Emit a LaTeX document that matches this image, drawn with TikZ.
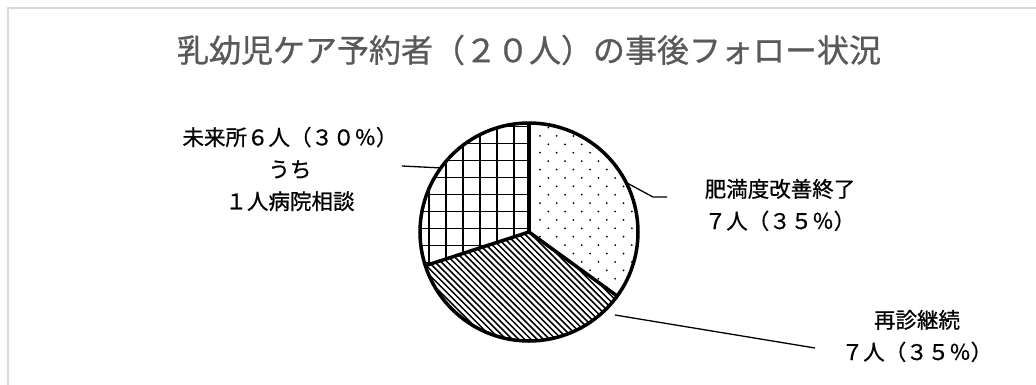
\documentclass[tikz,border=0pt]{standalone}
\usepackage{fontspec}
\setmainfont{Noto Sans CJK JP}
\newfontfamily\jpfont[FakeBold=0.8]{Noto Sans CJK JP}
\definecolor{titlegray}{HTML}{595959}
\definecolor{framegray}{HTML}{D9D9D9}
\tikzset{
  lbl/.style={align=center, inner sep=0pt, font=\jpfont\fontsize{21.5}{32}\selectfont},
  leader/.style={line width=1.3pt, black},
  slice/.style={line width=3.5pt, black, line join=round},
  hatchline/.style={line width=1.5pt, black},
}

\begin{document}
\begin{tikzpicture}[x=1pt,y=1pt]
    \useasboundingbox (-529,-152) rectangle (507,232);

    % Rahmen
    \draw[framegray, line width=2pt] (-521,-170) -- (-521,224.5) -- (520,224.5);

    % Titel
    \node[font=\jpfont\fontsize{32}{36}\selectfont, text=titlegray] (title) at (0,182)
        {乳幼児ケア予約者（２０人）の事後フォロー状況};

    \coordinate (c) at (0,0);

    % 肥満度改善終了: Punkte
    \begin{scope}
        \clip (c) -- (90:109) arc[start angle=90, end angle=-36, radius=109] -- cycle;
        \foreach \j in {0,...,22} {
            \pgfmathsetmacro{\dx}{mod(\j,2)*8.35}
            \foreach \i in {0,...,6} {
                \fill ({11+\dx+\i*16.7},{112.9-\j*8.4}) circle (1.0);
            }
        }
    \end{scope}

    % 再診継続: Schraffur
    \begin{scope}
        \clip (c) -- (-36:109) arc[start angle=-36, end angle=-162, radius=109] -- cycle;
        \foreach \k in {-45,...,45} {
            \draw[hatchline] ({\k*6.2-150},150) -- ({\k*6.2+150},-150);
        }
    \end{scope}

    % 未来所: Gitter
    \begin{scope}
        \clip (c) -- (-162:109) arc[start angle=-162, end angle=-270, radius=109] -- cycle;
        \foreach \k in {0,...,6} {
            \draw[line width=1.3pt] ({-15-\k*17},-120) -- ({-15-\k*17},120);
        }
        \foreach \k in {-2,...,6} {
            \draw[line width=1.3pt] (-120,{3.7+\k*17}) -- (10,{3.7+\k*17});
        }
    \end{scope}

    % Umriss
    \draw[slice] (c) circle (109);
    \draw[slice] (c) -- (90:109);
    \draw[slice] (c) -- (-36:109);
    \draw[slice] (c) -- (-162:109);

    % Beschriftungen
    \node[lbl] (dotlbl) at (251,27) {肥満度改善終了\\７人（３５％）};
    \node[lbl] (hatchlbl) at (388,-104) {再診継続\\７人（３５％）};
    \node[lbl] (gridlbl) at (-239,63) {未来所６人（３０％）\\うち\\１人病院相談};

    % Fuehrungslinien
    \coordinate (dotA) at (27:109);
    \coordinate (dotB) at (124,35);
    \coordinate (dotC) at (138,35);
    \coordinate (hatchA) at (86,-83);
    \coordinate (hatchB) at (286,-116);
    \coordinate (gridA) at (144:109);
    \coordinate (gridB) at (-127,66);
    \draw[leader] (dotA) -- (dotB) -- (dotC);
    \draw[leader] (hatchA) -- (hatchB);
    \draw[leader] (gridA) -- (gridB);
\end{tikzpicture}
\end{document}
